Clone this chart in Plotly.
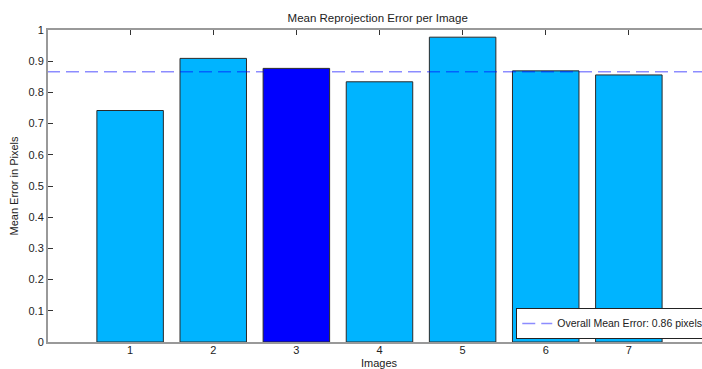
import numpy as np
import plotly.graph_objects as go

images = [1, 2, 3, 4, 5, 6, 7]
errors = [0.742, 0.909, 0.877, 0.834, 0.977, 0.869, 0.856]
highlight = 3
legend_label = "Overall Mean Error: 0.86 pixels"
y_ticks = [0, 0.1, 0.2, 0.3, 0.4, 0.5, 0.6, 0.7, 0.8, 0.9, 1]
y_tick_labels = ["0", "0.1", "0.2", "0.3", "0.4", "0.5", "0.6", "0.7", "0.8", "0.9", "1"]

mean_err = float(np.mean(errors))
colors = ["#0000FF" if i == highlight else "#00B4FF" for i in images]

FONT = "Liberation Sans, Arial, sans-serif"

fig = go.Figure()
fig.add_trace(go.Bar(
    x=images, y=errors, width=0.8,
    marker=dict(color=colors, line=dict(color="#2a2a2a", width=1)),
    showlegend=False, hoverinfo="skip",
))
fig.add_trace(go.Scatter(
    x=[0, 8], y=[mean_err, mean_err], mode="lines",
    line=dict(color="rgba(0,0,255,0.45)", width=1.5, dash="13px,6px"),
    name=legend_label, showlegend=True,
))

fig.update_layout(
    width=702, height=369,
    margin=dict(l=48, r=0, t=30, b=27, autoexpand=False),
    paper_bgcolor="white", plot_bgcolor="white",
    font=dict(family=FONT, size=11, color="#222"),
    title=dict(text="Mean Reprojection Error per Image", x=0.538, xanchor="center",
               y=1 - 18 / 369, yanchor="middle", font=dict(size=11.5, color="#222")),
    bargap=0.2,
    legend=dict(x=0.716, y=0.01, xanchor="left", yanchor="bottom",
                bgcolor="white", bordercolor="#222", borderwidth=1,
                font=dict(size=10.5, color="#222"), itemwidth=30,
                tracegroupgap=0),
    annotations=[dict(text="Images", xref="paper", yref="paper",
                      x=0.5 + 4 / 654, y=-20.5 / 312, xanchor="center", yanchor="middle",
                      showarrow=False, borderpad=0, font=dict(size=11, color="#222"))],
)
fig.update_xaxes(
    range=[0.012, 7.88], tickvals=images, ticktext=[str(v) for v in images],
    ticks="inside", ticklen=5, tickcolor="#333", showgrid=False, zeroline=False,
    showline=True, linecolor="#999", linewidth=2, mirror="ticks",
    layer="below traces", automargin=False, ticklabelstandoff=-3,
)
fig.update_yaxes(
    range=[0, 1], tickvals=y_ticks, ticktext=y_tick_labels,
    ticks="inside", ticklen=5, tickcolor="#333", showgrid=False, zeroline=False,
    showline=True, linecolor="#999", linewidth=2, mirror=False,
    layer="below traces", automargin=False,
    title=dict(text="Mean Error in Pixels", standoff=8, font=dict(size=11)),
)

fig.write_html("out.html", config={"displayModeBar": False},
               post_script="document.body.style.margin='0';")
